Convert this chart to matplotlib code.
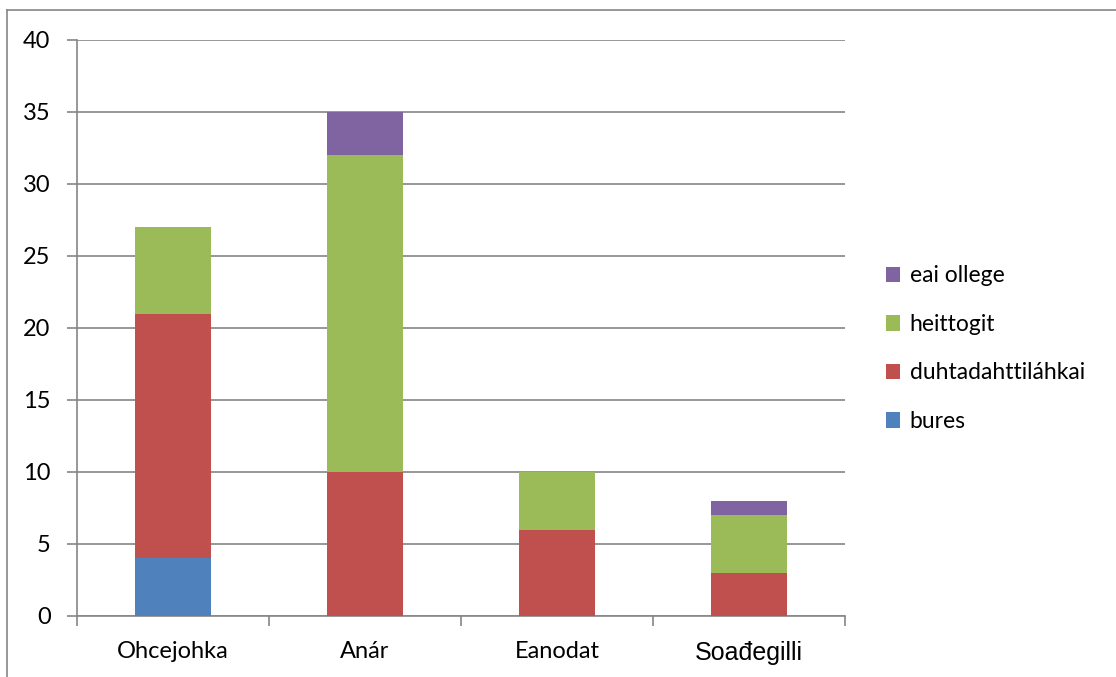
import numpy as np
import matplotlib.pyplot as plt
from matplotlib.lines import Line2D
from matplotlib.patches import Patch

# data
kategoriat = ['Ohcejohka', 'Anár', 'Eanodat', 'Soađegilli']
bures = [4, 0, 0, 0]
duhta = [17, 10, 6, 3]
heittogit = [6, 22, 4, 4]
eai_ollege = [0, 3, 0, 1]

sarjat = ['bures', 'duhtadahttiláhkai', 'heittogit', 'eai ollege']
arvot = [bures, duhta, heittogit, eai_ollege]
varit = ['#4F81BD', '#C0504D', '#9BBB59', '#8064A2']

plt.rcParams['font.family'] = ['Lato', 'DejaVu Sans']
grid_c = '#868686'

fig = plt.figure(figsize=(11.16, 6.77), dpi=100)
ax = fig.add_axes([77/1116, 1-616/677, 768/1116, 576/677])

x = np.arange(len(kategoriat))
pohja = np.zeros(len(kategoriat))
for nimi, v, c in zip(sarjat, arvot, varit):
    ax.bar(x, v, 0.4, bottom=pohja, color=c, label=nimi, zorder=3)
    pohja = pohja + np.array(v)

ax.set_xlim(-0.5, len(kategoriat) - 0.5)
ax.set_ylim(0, 40)
ax.set_yticks(range(0, 41, 5))
ax.yaxis.grid(True, color=grid_c, lw=1.2, zorder=0)
ax.set_xticks(np.arange(-0.5, len(kategoriat), 1))
ax.set_xticklabels([])
ax.set_xticks(x, minor=True)
ax.set_xticklabels(kategoriat, minor=True, fontsize=17)
ax.tick_params(axis='x', which='minor', length=0, pad=18)
ax.tick_params(axis='x', which='major', length=7, color=grid_c, width=1.2)
ax.tick_params(axis='y', length=7, color=grid_c, width=1.2, labelsize=17, pad=12)
# last label in another font as in the original
ax.get_xticklabels(minor=True)[3].set_family(['Liberation Sans', 'DejaVu Sans'])
ax.get_xticklabels(minor=True)[3].set_fontsize(18)

for s in ['top', 'right']:
    ax.spines[s].set_visible(False)
for s in ['left', 'bottom']:
    ax.spines[s].set_color(grid_c)
    ax.spines[s].set_linewidth(1.2)

kahvat = [Patch(facecolor=c, edgecolor='none') for c in varit][::-1]
ax.legend(kahvat, sarjat[::-1], loc='center left', bbox_to_anchor=(1.026, 0.464),
          frameon=False, fontsize=16.5, handlelength=0.65, handleheight=0.65,
          handletextpad=0.4, labelspacing=1.2)

# outer frame (top and left edges visible)
fig.add_artist(Line2D([7/1116, 7/1116], [0, 1-10/677], color=grid_c, lw=1.2))
fig.add_artist(Line2D([7/1116, 1], [1-10/677, 1-10/677], color=grid_c, lw=1.2))

fig.savefig('out.png', dpi=100)
